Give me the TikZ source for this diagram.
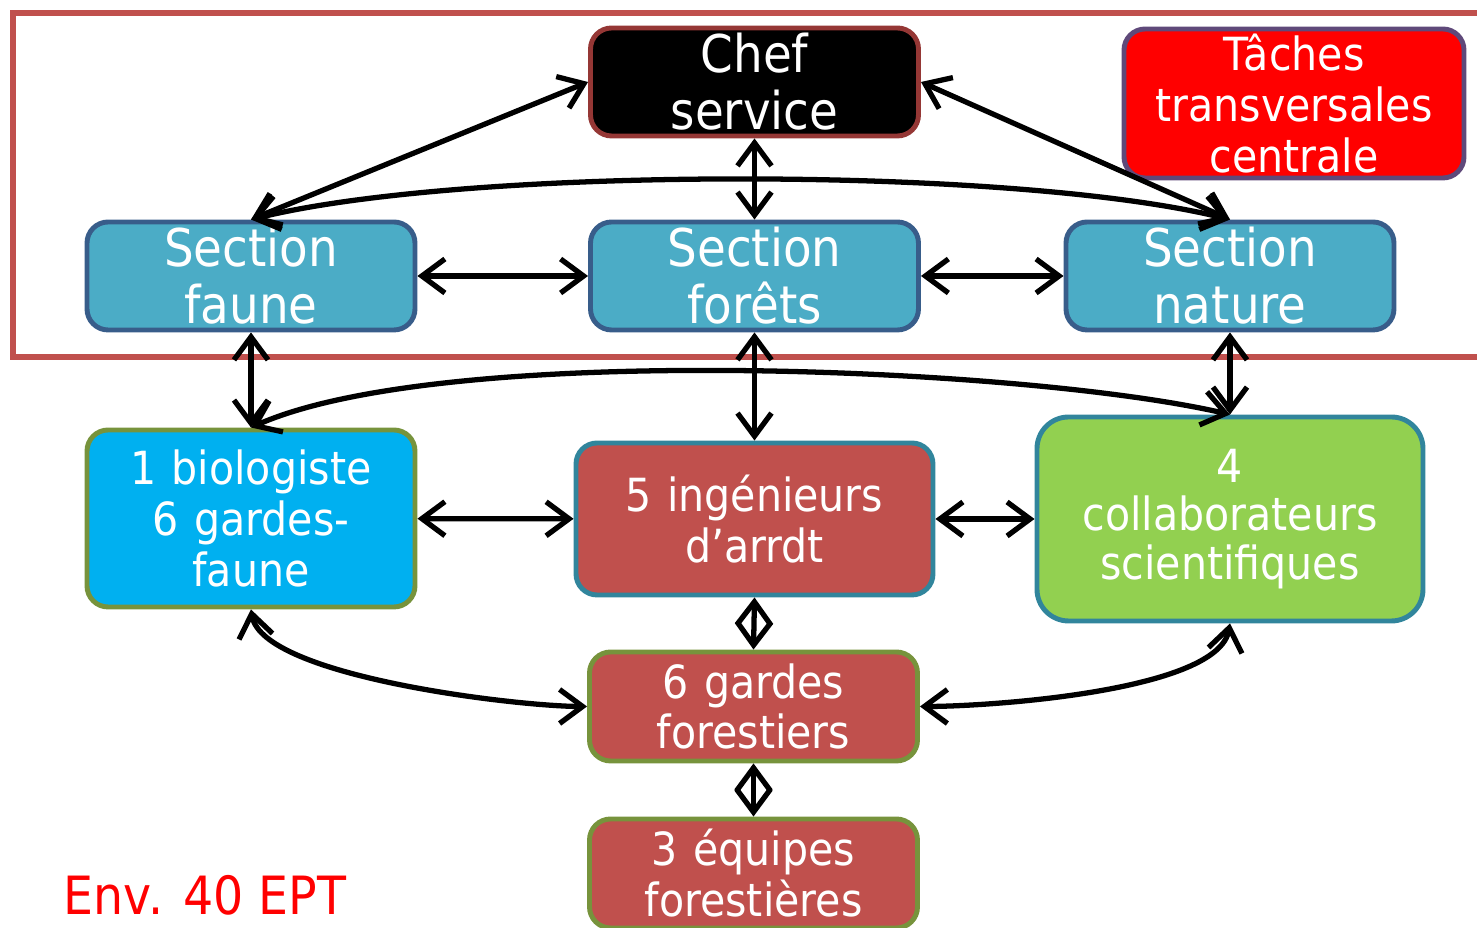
\documentclass[tikz,border=0pt]{standalone}
\usepackage{fontspec}
\setmainfont{DejaVu Sans}[FakeStretch=0.9]
\usetikzlibrary{shapes,arrows.meta,positioning}
\definecolor{frameRed}{HTML}{C0504D}
\definecolor{chefLine}{HTML}{953735}
\definecolor{tachesLine}{HTML}{5F497A}
\definecolor{sectionFill}{HTML}{4BACC6}
\definecolor{sectionLine}{HTML}{385D8A}
\definecolor{bioFill}{HTML}{00B0F0}
\definecolor{oliveLine}{HTML}{77933C}
\definecolor{brickFill}{HTML}{C0504D}
\definecolor{tealLine}{HTML}{31859C}
\definecolor{collabFill}{HTML}{92D050}
\definecolor{envRed}{HTML}{FF0000}
\tikzstyle{box} = [rectangle, rounded corners=6pt, line width=1.4pt, inner sep=0pt, text=white, text centered]
\tikzstyle{bigBox} = [box, minimum width=3.28cm, minimum height=1.08cm, text width=3.2cm, font=\fontsize{14.8}{16.2}\selectfont]
\tikzstyle{smallBox} = [box, font=\fontsize{13}{14.5}\selectfont]
\tikzstyle{sectionBox} = [bigBox, fill=sectionFill, draw=sectionLine]
\tikzstyle{arrow} = [draw, line width=1.5pt, >={Straight Barb[length=2.3mm,width=3.4mm]}, <->]

\begin{document}
\begin{tikzpicture}
    \useasboundingbox (0,0) rectangle (14.77,-9.28);
    \draw [frameRed, line width=1.8pt] (0.13,-0.13) rectangle (14.95,-3.57);

    \node (secForets) [sectionBox] at (7.545,-2.76) {Section\\forêts};
    \node (secFaune) [sectionBox, left of=secForets, node distance=5.035cm] {Section\\faune};
    \node (secNature) [sectionBox, right of=secForets, node distance=4.755cm] {Section\\nature};
    \node (chefService) [bigBox, fill=black, draw=chefLine, above of=secForets, node distance=1.94cm] {Chef\\service};
    \node (taches) [smallBox, fill=envRed, draw=tachesLine, minimum width=3.4cm, minimum height=1.49cm, text width=3.3cm, above of=secNature, node distance=1.725cm, xshift=0.64cm] {Tâches\\transversales\\centrale};

    \node (bioGardes) [smallBox, fill=bioFill, draw=oliveLine, minimum width=3.28cm, minimum height=1.77cm, text width=3.2cm, below of=secFaune, node distance=2.425cm] {1 biologiste\\6 gardes-\\faune};
    \node (ingenieurs) [smallBox, fill=brickFill, draw=tealLine, minimum width=3.57cm, minimum height=1.52cm, text width=3.4cm, below of=secForets, node distance=2.43cm] {5 ingénieurs\\d’arrdt};
    \node (collab) [smallBox, fill=collabFill, draw=tealLine, minimum width=3.86cm, minimum height=2.04cm, text width=3.7cm, below of=secNature, node distance=2.43cm, rounded corners=9pt, font=\fontsize{13}{13.9}\selectfont] {4\\collaborateurs\\scientifiques};
    \node (gardesFor) [smallBox, fill=brickFill, draw=oliveLine, minimum width=3.28cm, minimum height=1.09cm, text width=3.2cm, below of=ingenieurs, node distance=1.875cm, xshift=-0.01cm] {6 gardes\\forestiers};
    \node (equipes) [smallBox, fill=brickFill, draw=oliveLine, minimum width=3.28cm, minimum height=1.09cm, text width=3.2cm, below of=gardesFor, node distance=1.67cm] {3 équipes\\forestières};

    \node (envEPT) [anchor=base west, inner sep=0pt, text=envRed, font=\fontsize{15}{17}\selectfont] at (0.63,-9.15) {Env. 40 EPT};

    \path [arrow] (chefService.west) -- (secFaune.north);
    \path [arrow] (chefService.east) -- (secNature.north);
    \path [arrow] (chefService) -- (secForets);
    \path [arrow] (secFaune.north) to[out=14,in=166,looseness=0.58] (secNature.north);
    \path [arrow] (secFaune) -- (secForets);
    \path [arrow] (secForets) -- (secNature);
    \path [arrow] (secFaune) -- (bioGardes);
    \path [arrow] (secForets) -- (ingenieurs);
    \path [arrow] (secNature) -- (collab);
    \path [arrow] (bioGardes.north) to[out=24,in=167,looseness=0.55] (collab.north);
    \path [arrow] (bioGardes) -- (ingenieurs);
    \path [arrow] (ingenieurs) -- (collab);
    \path [arrow] (ingenieurs.south) -- (gardesFor.north);
    \path [arrow] (gardesFor) -- (equipes);
    \path [arrow] (bioGardes.south) to[out=-80,in=180,looseness=0.5] (gardesFor.west);
    \path [arrow] (collab.south) to[out=-100,in=0,looseness=0.55] (gardesFor.east);
\end{tikzpicture}
\end{document}
